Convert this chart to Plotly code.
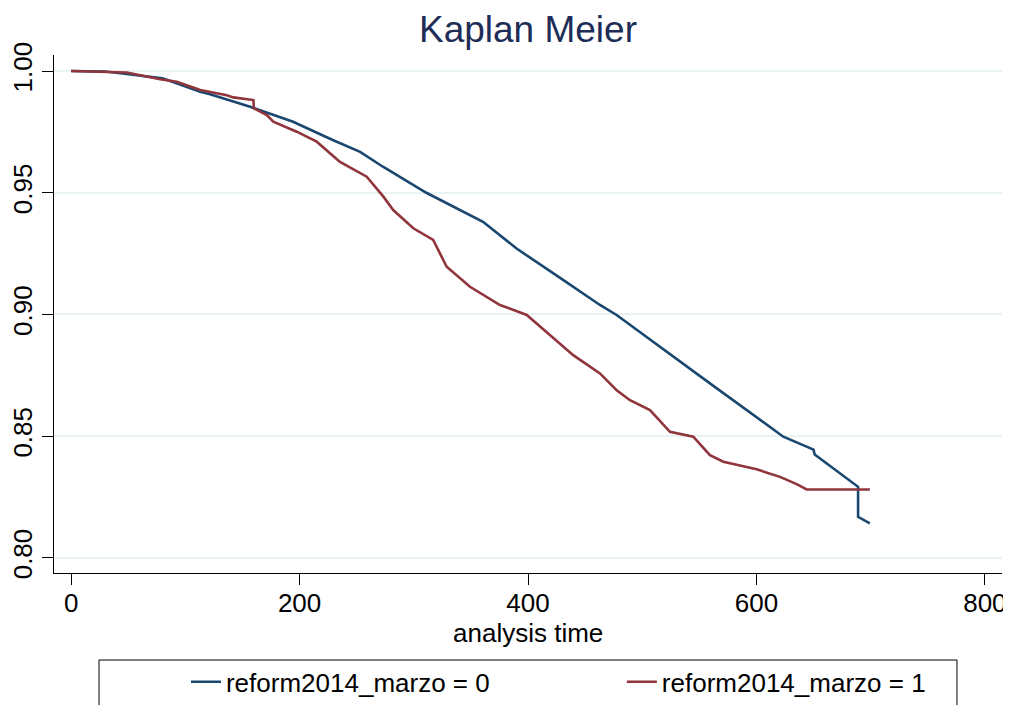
import plotly.graph_objects as go

# Kaplan-Meier survival estimates
time_0 = [0, 30, 48.7, 80, 113, 121.7, 156.7, 194.3, 229, 253, 273, 311, 360.6,
          390, 431, 463, 477.6, 520, 559.3, 623.5, 650, 651, 689, 689, 699.3]
surv_0 = [1.0, 0.9998, 0.9988, 0.997, 0.9915, 0.9905, 0.9853, 0.9792, 0.9717,
          0.9668, 0.9607, 0.95, 0.9381, 0.9271, 0.9141, 0.9039, 0.8998, 0.8851,
          0.8717, 0.8498, 0.8445, 0.8425, 0.8292, 0.8169, 0.8142]

time_1 = [0, 30, 48.7, 77.9, 92.5, 113, 136.3, 142, 159.6, 160, 171.3, 177, 197.5,
          215, 235.4, 258.8, 273.4, 282, 299.6, 317, 328.8, 349.2, 375.5, 398.9,
          419, 439.6, 463, 477.6, 489.3, 506.8, 524.3, 544.7, 559.3, 571, 600.2,
          620.6, 635.2, 644, 699.3]
surv_1 = [1.0, 0.9997, 0.9994, 0.9966, 0.9956, 0.9922, 0.9901, 0.9892, 0.9881,
          0.9847, 0.9819, 0.9792, 0.9751, 0.971, 0.9627, 0.9566, 0.9484, 0.9429,
          0.9354, 0.9306, 0.9196, 0.9114, 0.9039, 0.8998, 0.8915, 0.8833, 0.8758,
          0.8689, 0.8648, 0.8607, 0.8518, 0.8498, 0.8422, 0.8395, 0.8364, 0.8333,
          0.8303, 0.8281, 0.8281]

series_names = ["reform2014_marzo = 0", "reform2014_marzo = 1"]
x_ticks = [0, 200, 400, 600, 800]
y_ticks = [0.80, 0.85, 0.90, 0.95, 1.00]
y_tick_labels = ["0.80", "0.85", "0.90", "0.95", "1.00"]
x_title = "analysis time"
chart_title = "Kaplan Meier"

FONT = "Liberation Sans, Arial, Helvetica, sans-serif"

# page body has an 8px margin: the figure is sized so it ends at the window edge
W, H = 1003, 697

fig = go.Figure()
fig.add_trace(go.Scatter(x=time_0, y=surv_0, mode="lines", name=series_names[0],
                         line=dict(color="#1a476f", width=2.6), legend="legend"))
fig.add_trace(go.Scatter(x=time_1, y=surv_1, mode="lines", name=series_names[1],
                         line=dict(color="#90353b", width=2.6), legend="legend2"))

leg_common = dict(orientation="h", xanchor="left", y=-0.210, yanchor="middle",
                  font=dict(family=FONT, size=26, color="black"),
                  bgcolor="rgba(0,0,0,0)", visible=True)

fig.update_layout(
    width=W, height=H,
    margin=dict(l=46, r=9, t=47, b=132, autoexpand=False),
    showlegend=True,
    plot_bgcolor="white", paper_bgcolor="white",
    font=dict(family=FONT, size=26, color="black"),
    title=dict(text=chart_title, x=0.5, xref="paper", xanchor="center",
               y=1 - 21 / H, yref="container", yanchor="middle",
               font=dict(family=FONT, size=37, color="#1e2d57")),
    xaxis=dict(range=[-15, 815], tickvals=x_ticks, ticks="outside", ticklen=11,
               tickcolor="black", showline=True, linecolor="black", linewidth=1,
               showgrid=False, zeroline=False, automargin=False,
               ticklabelstandoff=-4),
    yaxis=dict(range=[0.7938, 1.0066], tickvals=y_ticks, ticktext=y_tick_labels,
               tickangle=-90, ticks="outside", ticklen=11, tickcolor="black",
               showline=True, linecolor="black", linewidth=1, automargin=False,
               showgrid=True, gridcolor="#eaf2f3", gridwidth=2, zeroline=False),
    legend=dict(x=0.1392, **leg_common),
    legend2=dict(x=0.599, **leg_common),
    annotations=[dict(text=x_title, xref="paper", yref="paper", x=0.5, y=-0.1158,
                      xanchor="center", yanchor="middle", showarrow=False,
                      font=dict(family=FONT, size=26, color="black"))],
    shapes=[dict(type="rect", xref="paper", yref="paper",
                 x0=0.0475, x1=0.9525, y0=-0.168, y1=-0.32,
                 line=dict(color="black", width=1), fillcolor="rgba(0,0,0,0)")],
)

fig.write_html("out.html")
